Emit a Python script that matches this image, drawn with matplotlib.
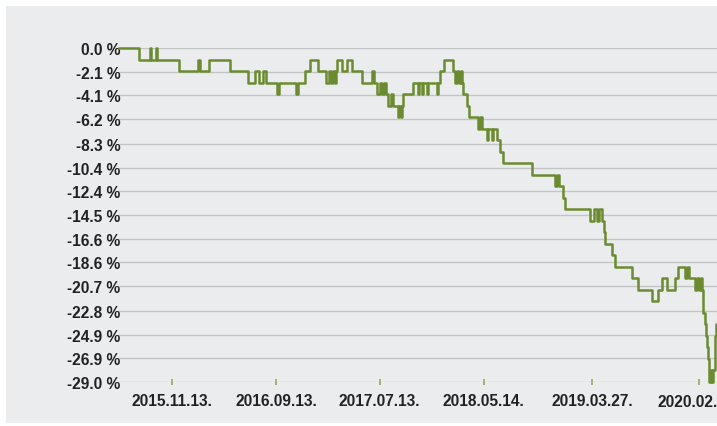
import matplotlib
matplotlib.use("Agg")
import matplotlib.pyplot as plt
import matplotlib.dates as mdates
from matplotlib.patches import Rectangle
import pandas as pd

# drawdown steps (value holds from each date until the next one)
dates = [
    "2015-06-11", "2015-08-08", "2015-09-10", "2015-09-12", "2015-09-27", "2015-09-30",
    "2015-12-03", "2016-01-28", "2016-02-03", "2016-02-29", "2016-05-01", "2016-06-23",
    "2016-07-13", "2016-07-25", "2016-08-06", "2016-08-14", "2016-09-15", "2016-09-21",
    "2016-11-10", "2016-11-16", "2016-12-07", "2016-12-21", "2017-01-14", "2017-02-06",
    "2017-02-15", "2017-02-21", "2017-02-26", "2017-03-04", "2017-03-07", "2017-03-10",
    "2017-03-25", "2017-04-08", "2017-04-23", "2017-05-22", "2017-06-21", "2017-06-27",
    "2017-07-05", "2017-07-14", "2017-07-20", "2017-07-26", "2017-08-01", "2017-08-07",
    "2017-08-15", "2017-08-21", "2017-09-05", "2017-09-08", "2017-09-14", "2017-09-17",
    "2017-09-20", "2017-10-19", "2017-11-02", "2017-11-05", "2017-11-14", "2017-11-17",
    "2017-11-29", "2017-12-02", "2017-12-28", "2017-12-31", "2018-01-06", "2018-01-18",
    "2018-02-13", "2018-02-19", "2018-02-25", "2018-03-03", "2018-03-08", "2018-03-11",
    "2018-03-14", "2018-03-26", "2018-04-01", "2018-04-27", "2018-05-03", "2018-05-09",
    "2018-05-24", "2018-05-26", "2018-06-07", "2018-06-10", "2018-06-22", "2018-07-01",
    "2018-07-09", "2018-10-02", "2018-12-09", "2018-12-15", "2018-12-20", "2019-01-01",
    "2019-01-07", "2019-03-21", "2019-04-02", "2019-04-11", "2019-04-17", "2019-04-25",
    "2019-05-01", "2019-05-04", "2019-05-25", "2019-06-02", "2019-07-22", "2019-08-09",
    "2019-09-19", "2019-10-06", "2019-10-18", "2019-11-02", "2019-11-26", "2019-12-04",
    "2019-12-24", "2019-12-30", "2020-01-05", "2020-01-23", "2020-01-29", "2020-02-03",
    "2020-02-09", "2020-02-12", "2020-02-15", "2020-02-21", "2020-02-24", "2020-02-27",
    "2020-03-01", "2020-03-04", "2020-03-09", "2020-03-12", "2020-03-15", "2020-03-21",
    "2020-03-24", "2020-03-31",
]
drawdown = [
    0, -1, 0, -1, 0, -1,
    -2, -1, -2, -1, -2, -3,
    -2, -3, -2, -3, -4, -3,
    -4, -3, -2, -1, -2, -3,
    -2, -3, -2, -3, -2, -1,
    -2, -1, -2, -3, -2, -3,
    -4, -3, -4, -3, -4, -5,
    -4, -5, -6, -5, -6, -5,
    -4, -3, -4, -3, -4, -3,
    -4, -3, -4, -3, -2, -1,
    -2, -3, -2, -3, -2, -3,
    -4, -5, -6, -7, -6, -7,
    -8, -7, -8, -7, -8, -9,
    -10, -11, -12, -11, -12, -13,
    -14, -15, -14, -15, -14, -15,
    -16, -17, -18, -19, -20, -21,
    -22, -21, -20, -21, -20, -19,
    -20, -19, -20, -21, -20, -21,
    -20, -21, -23, -24, -25, -26,
    -27, -29, -28, -29, -28, -25,
    -24, -24,
]

y_ticks = [0.0, -2.1, -4.1, -6.2, -8.3, -10.4, -12.4, -14.5, -16.6, -18.6,
           -20.7, -22.8, -24.9, -26.9, -29.0]
x_tick_dates = ["2015-11-13", "2016-09-13", "2017-07-13", "2018-05-14", "2019-03-27", "2020-02-03"]
x_tick_labels = ["2015.11.13.", "2016.09.13.", "2017.07.13.", "2018.05.14.", "2019.03.27.", "2020.02."]

W, H = 717, 427
fig = plt.figure(figsize=(W / 100, H / 100), dpi=100)
fig.patch.set_facecolor("white")
fig.patches.append(Rectangle((6 / W, 3 / H), 1, (H - 10) / H, transform=fig.transFigure,
                             facecolor="#ebecee", edgecolor="none", zorder=-10))

# axes runs past the right edge of the figure, like the cropped original
left_px, right_px, top_px, bottom_px = 119, 760, 49, 383
ax = fig.add_axes([left_px / W, (H - bottom_px) / H, (right_px - left_px) / W, (bottom_px - top_px) / H])
ax.set_facecolor("none")

x = mdates.date2num(pd.to_datetime(dates))
ax.step(x, drawdown, where="post", color="#6a8b2f", lw=1.8, clip_on=False, zorder=3)

ref = mdates.date2num(pd.Timestamp("2015-11-13"))
days_per_px = 2.9286
ax.set_xlim(ref - (172 - left_px) * days_per_px, ref + (right_px - 172) * days_per_px)
ax.set_ylim(-29.0, 0.0)

ax.set_yticks(y_ticks)
ax.set_yticklabels([f"{v:.1f} %" for v in y_ticks])
tick_x = mdates.date2num(pd.to_datetime(x_tick_dates))
ax.set_xticks(tick_x)
ax.set_xticklabels(x_tick_labels[:-1] + [""])

label_style = dict(fontfamily="Liberation Sans", fontweight="bold", fontsize=11.2, color="#222222")

for s in ax.spines.values():
    s.set_visible(False)
ax.grid(axis="y", color="#c3c4c6", lw=1.0, zorder=1)
ax.grid(axis="x", visible=False)
ax.tick_params(axis="y", length=0, pad=-1)
ax.tick_params(axis="x", direction="inout", length=5, width=1.2, color="#93a862", pad=5.5)
for lab in ax.get_xticklabels() + ax.get_yticklabels():
    lab.set(**label_style)

# last date label is cut short by the right edge in the original
ax.annotate(x_tick_labels[-1], xy=(tick_x[-1], 0), xycoords=("data", "axes fraction"),
            xytext=(-30, -8.4), textcoords="offset points", ha="left", va="top", **label_style)

fig.savefig("out.png", dpi=100)
